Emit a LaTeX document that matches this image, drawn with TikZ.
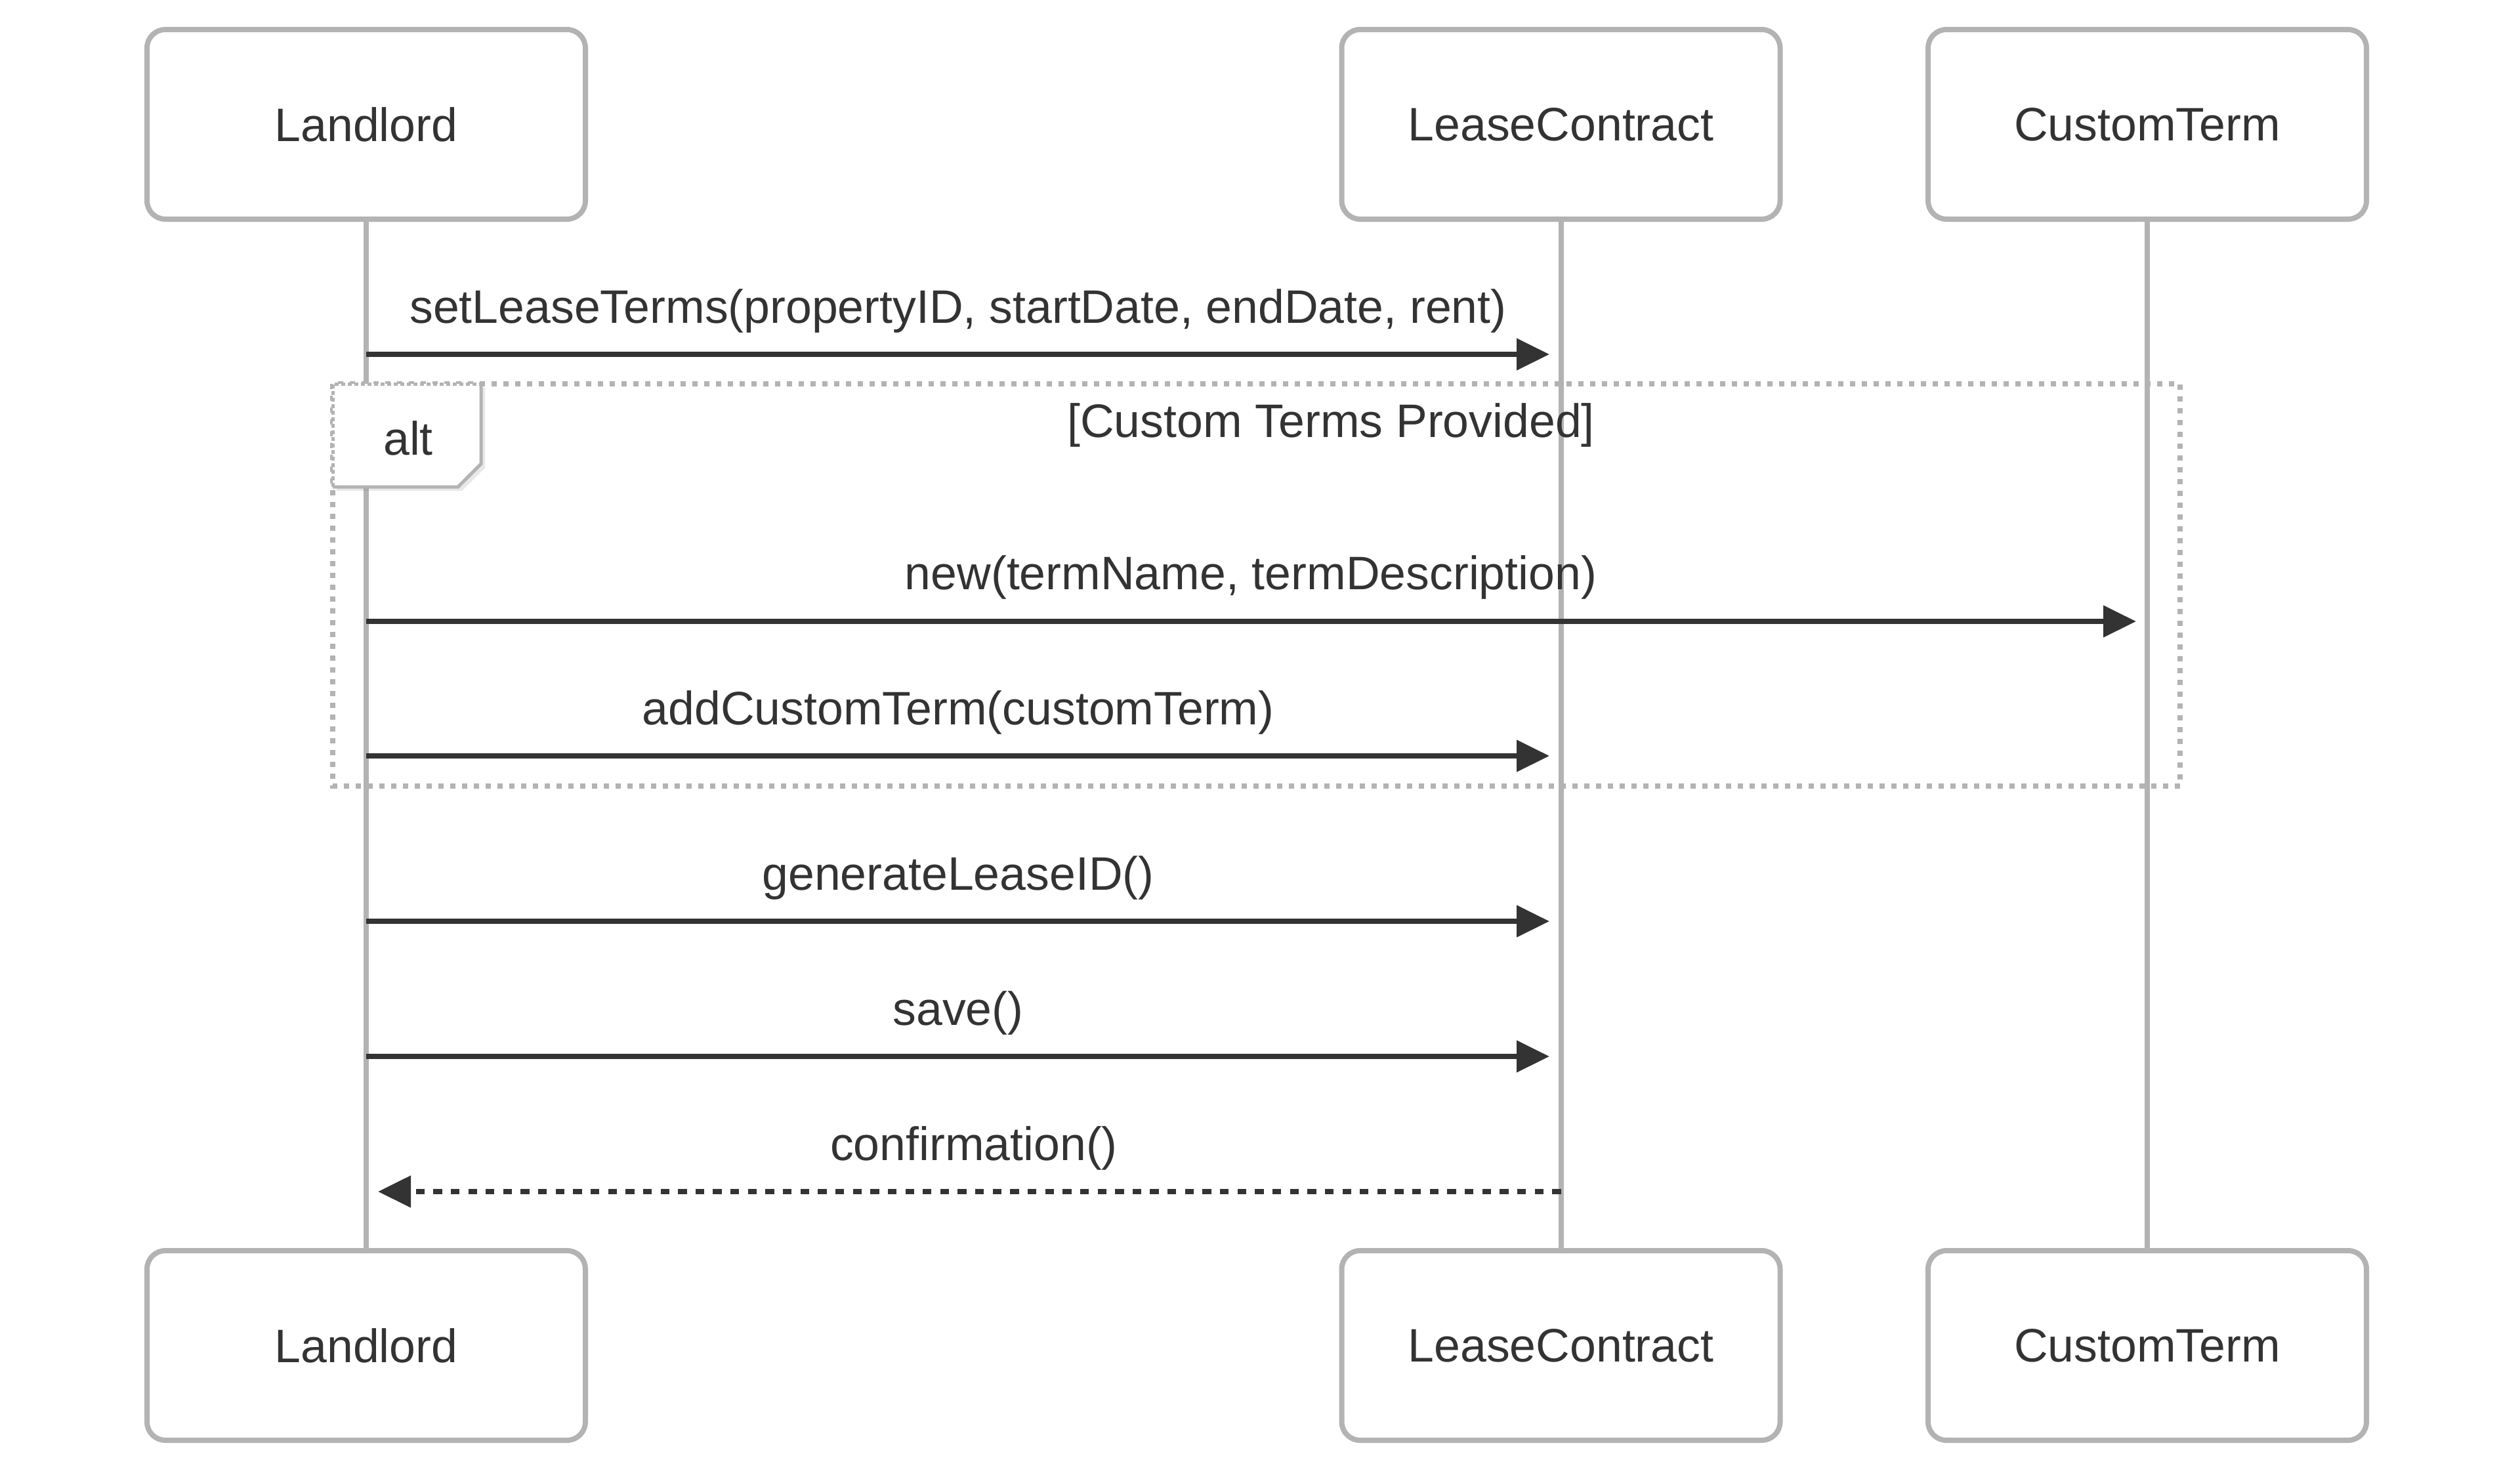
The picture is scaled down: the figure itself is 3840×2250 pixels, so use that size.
\documentclass[tikz,border=0pt]{standalone}
\usepackage{fontspec}
\setmainfont{Liberation Sans}
\usetikzlibrary{arrows.meta,shadows}
\definecolor{edgegray}{HTML}{B3B3B3}
\definecolor{ink}{HTML}{333333}
\begin{document}
\begin{tikzpicture}[x=0.25pt,y=-0.25pt,
  actor/.style={draw=edgegray, line width=2pt, rounded corners=7pt, fill=white,
    minimum width=167pt, minimum height=72.25pt, inner sep=0pt, text=ink,
    font=\fontsize{17.9pt}{21pt}\selectfont},
  life/.style={draw=edgegray, line width=2pt},
  msg/.style={draw=ink, line width=2pt, -{Triangle[length=12.5pt,width=11.75pt]}},
  reply/.style={msg, dash pattern=on 3.33pt off 3.33pt},
  lbl/.style={text=ink, font=\fontsize{17.9pt}{21pt}\selectfont, anchor=base, inner sep=0pt},
  framebox/.style={draw=edgegray, line width=2pt, dash pattern=on 2pt off 2.5pt},
  altedge/.style={draw=edgegray, line width=1.25pt},
]
\useasboundingbox (0,0) rectangle (3840,2250);

% actors
\node[actor] (lT) at (558,189.5) {Landlord};
\node[actor] (cT) at (2378.5,189.5) {LeaseContract};
\node[actor] (tT) at (3272,189.5) {CustomTerm};
\node[actor] (lB) at (558,2050.5) {Landlord};
\node[actor] (cB) at (2378.5,2050.5) {LeaseContract};
\node[actor] (tB) at (3272,2050.5) {CustomTerm};

% lifelines
\draw[life] (lT.south) -- (lB.north);
\draw[life] (cT.south) -- (cB.north);
\draw[life] (tT.south) -- (tB.north);

% alt frame
\coordinate (f1) at (507,585);
\coordinate (f2) at (3322,1198);
\draw[framebox] (f1) rectangle (f2);

% alt label
\coordinate (p1) at (507,585);
\coordinate (p2) at (733,585);
\coordinate (p3) at (733,707);
\coordinate (p4) at (698,742);
\coordinate (p5) at (507,742);
\fill[white, drop shadow={shadow xshift=1.5pt, shadow yshift=-1.5pt, opacity=0.18}]
  (p1) -- (p2) -- (p3) -- (p4) -- (p5) -- cycle;
\draw[altedge] (p2) -- (p3) -- (p4) -- (p5);
\draw[altedge, dash pattern=on 1.5pt off 1pt] (p5) -- (p1) -- (p2);
\node[lbl] (alt) at (622,693) {alt};
\node[lbl] (cond) at (2028,666) {[Custom Terms Provided]};

% messages
\coordinate (a1) at (558,540);   \coordinate (b1) at (2361,540);
\coordinate (a2) at (558,947);   \coordinate (b2) at (3255,947);
\coordinate (a3) at (558,1152);  \coordinate (b3) at (2361,1152);
\coordinate (a4) at (558,1404);  \coordinate (b4) at (2361,1404);
\coordinate (a5) at (558,1610);  \coordinate (b5) at (2361,1610);
\coordinate (a6) at (2378.5,1816); \coordinate (b6) at (576,1816);

\draw[msg] (a1) -- (b1);
\draw[msg] (a2) -- (b2);
\draw[msg] (a3) -- (b3);
\draw[msg] (a4) -- (b4);
\draw[msg] (a5) -- (b5);
\draw[reply] (a6) -- (b6);

\node[lbl] (t1) at (1460,492) {setLeaseTerms(propertyID, startDate, endDate, rent)};
\node[lbl] (t2) at (1906,898) {new(termName, termDescription)};
\node[lbl] (t3) at (1460,1104) {addCustomTerm(customTerm)};
\node[lbl] (t4) at (1460,1356) {generateLeaseID()};
\node[lbl] (t5) at (1460,1562) {save()};
\node[lbl] (t6) at (1484,1768) {confirmation()};
\end{tikzpicture}
\end{document}
